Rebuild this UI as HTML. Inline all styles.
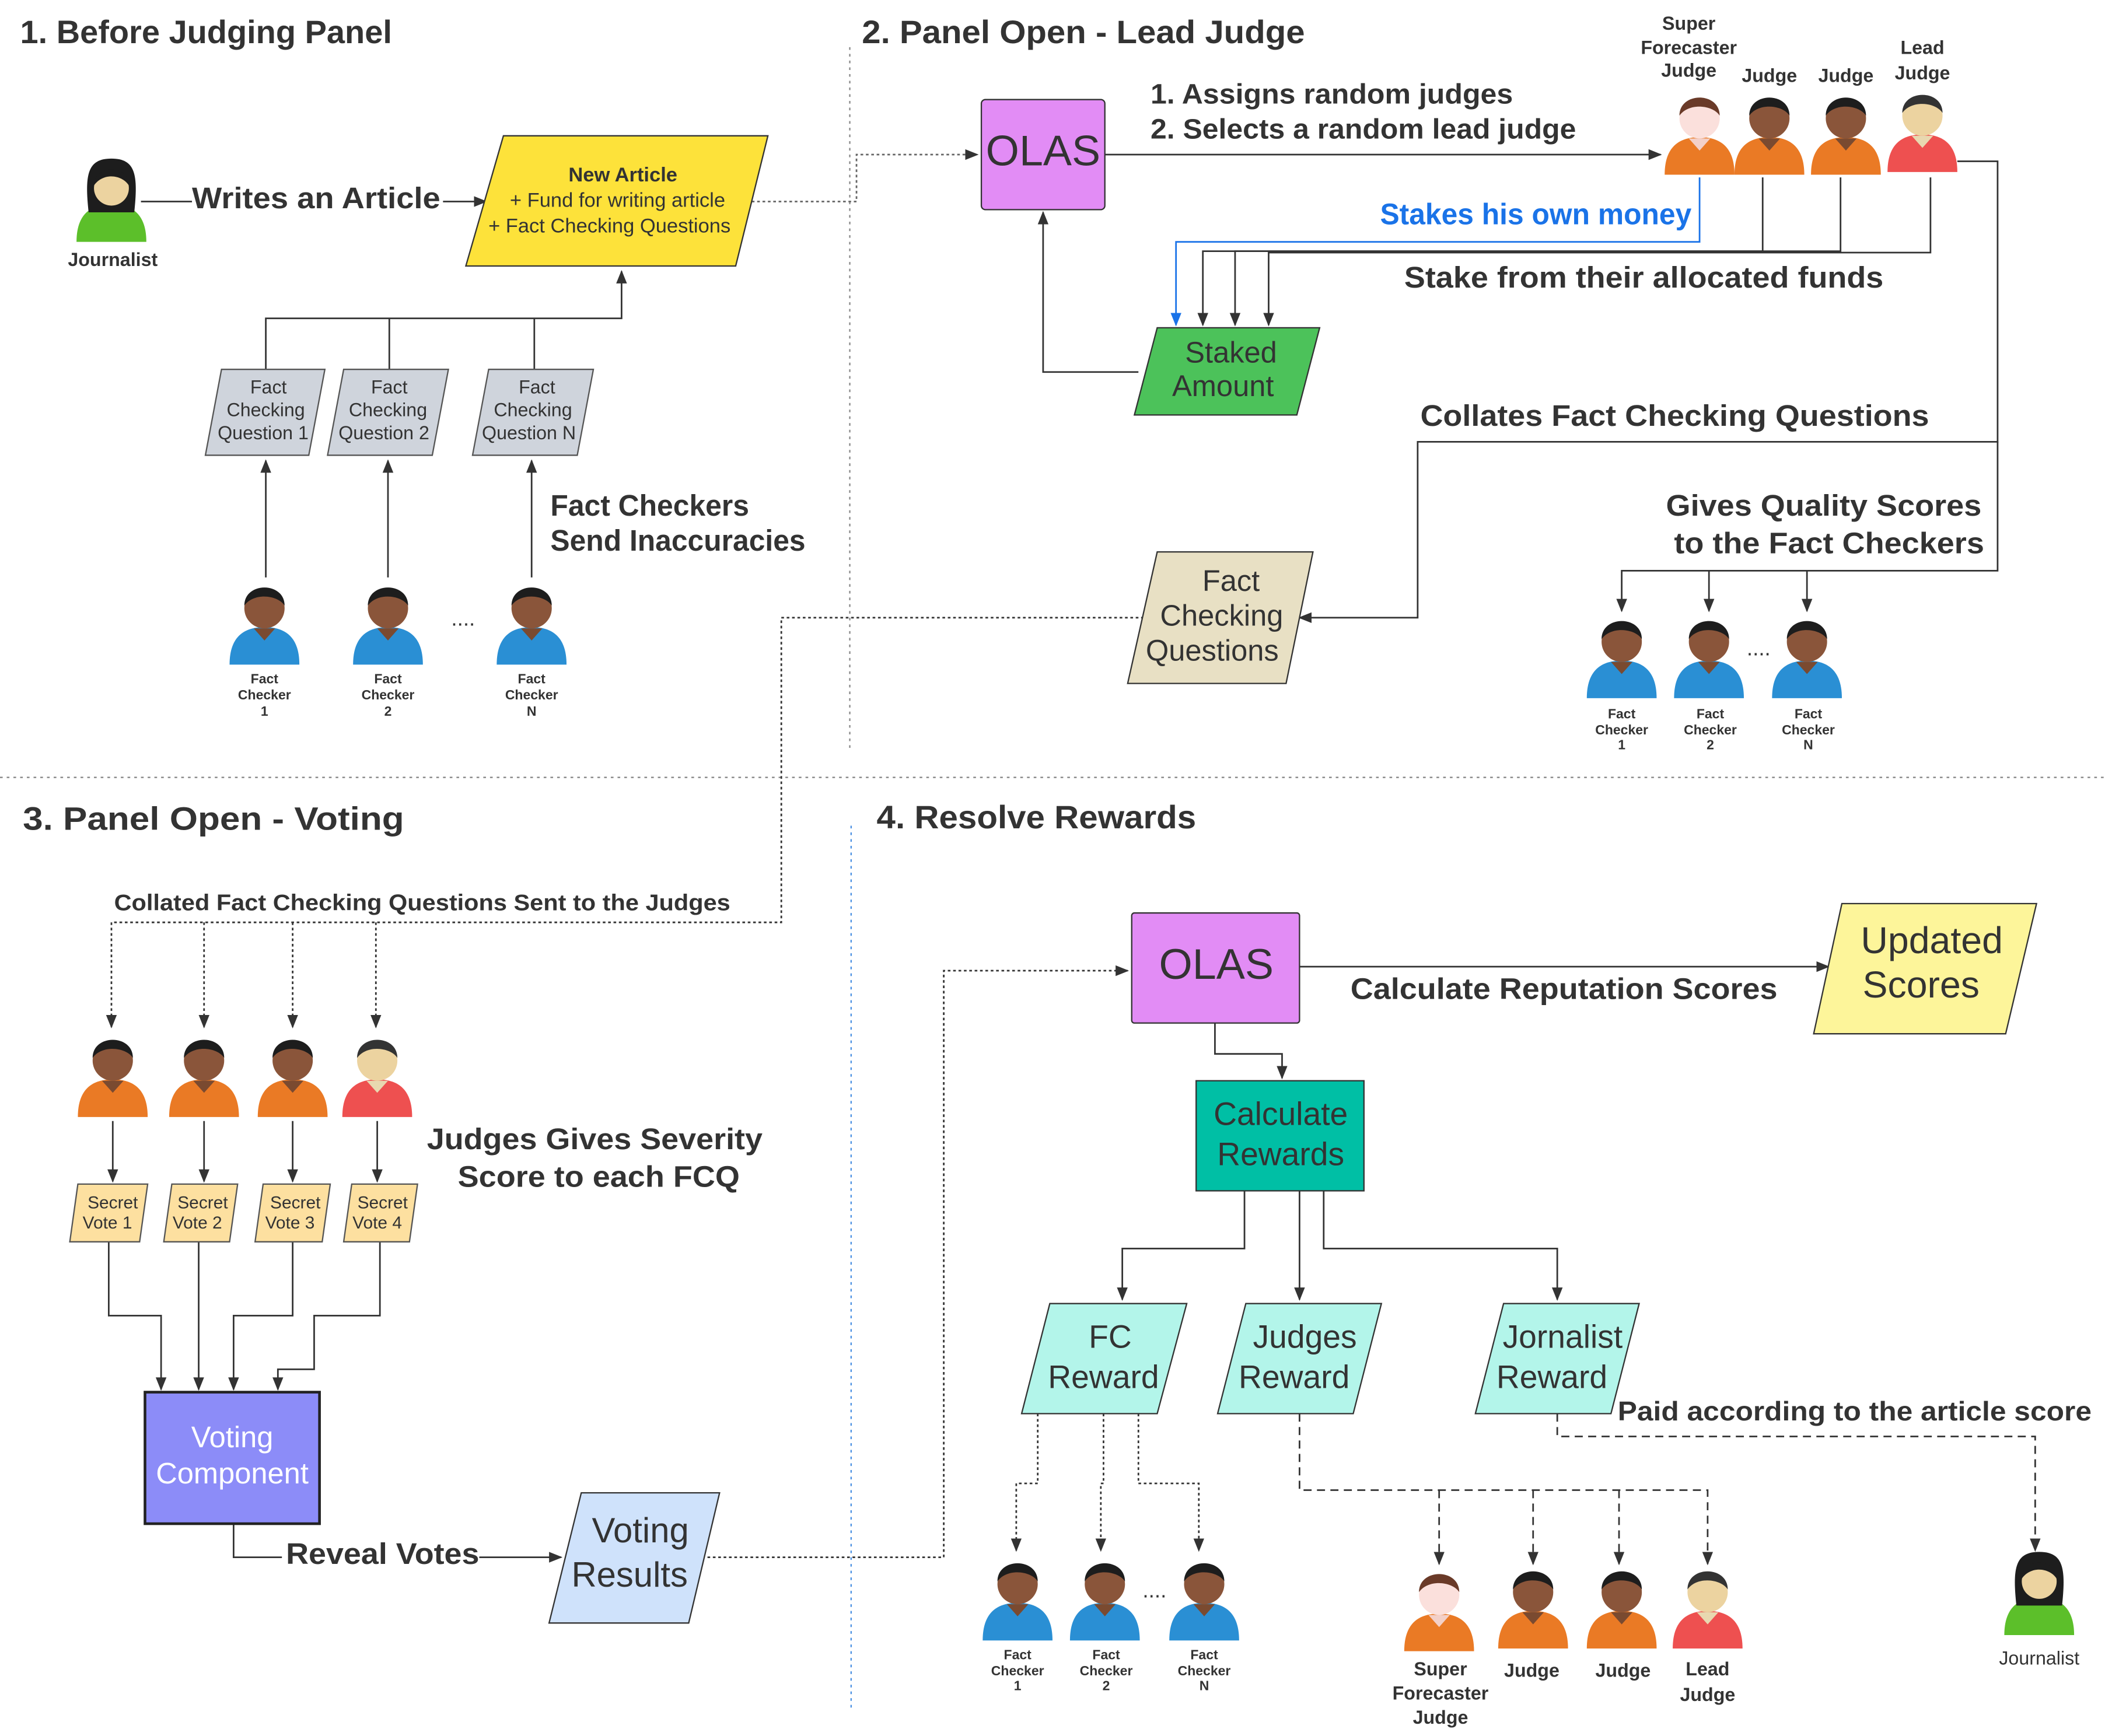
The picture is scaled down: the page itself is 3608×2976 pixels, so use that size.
<!DOCTYPE html>
<html><head><meta charset="utf-8"><style>
html,body{margin:0;padding:0;background:#fff}
svg{display:block}
text{font-family:"Liberation Sans",Arial,sans-serif;fill:#333}
.b{font-weight:bold}
</style></head><body>
<svg width="3608" height="2976" viewBox="0 0 1568 1293" xmlns="http://www.w3.org/2000/svg">
<defs>
<marker id="ar" markerWidth="10" markerHeight="10" refX="9" refY="5" orient="auto" markerUnits="userSpaceOnUse"><path d="M0,1 L10,5 L0,9 Z" fill="#333"/></marker>
<marker id="arb" markerWidth="10" markerHeight="10" refX="9" refY="5" orient="auto" markerUnits="userSpaceOnUse"><path d="M0,1 L10,5 L0,9 Z" fill="#1a73e8"/></marker>
<g id="pFC"><path d="M-26,30 C-26,8 -14,2 0,2 C14,2 26,8 26,30 Z" fill="#2a8fd4"/><path d="M-8,3 L0,12 L8,3 Z" fill="#7a4a30"/><circle cx="0" cy="-12" r="15" fill="#8a553a"/><path d="M-15,-14 C-15,-32 15,-32 15,-14 C10,-22 -8,-24 -15,-14 Z" fill="#1d1d1d"/></g>
<g id="pJ"><path d="M-26,30 C-26,8 -14,2 0,2 C14,2 26,8 26,30 Z" fill="#ea7a25"/><path d="M-8,3 L0,12 L8,3 Z" fill="#7a4a30"/><circle cx="0" cy="-12" r="15" fill="#8a553a"/><path d="M-15,-14 C-15,-32 15,-32 15,-14 C10,-22 -8,-24 -15,-14 Z" fill="#1d1d1d"/></g>
<g id="pL"><path d="M-26,30 C-26,8 -14,2 0,2 C14,2 26,8 26,30 Z" fill="#ee5050"/><path d="M-8,3 L0,12 L8,3 Z" fill="#e8d8b0"/><circle cx="0" cy="-12" r="15" fill="#ecd3a0"/><path d="M-15,-14 C-15,-32 15,-32 15,-14 C10,-22 -8,-24 -15,-14 Z" fill="#333"/></g>
<g id="pS"><path d="M-26,30 C-26,8 -14,2 0,2 C14,2 26,8 26,30 Z" fill="#ea7a25"/><path d="M-8,3 L0,12 L8,3 Z" fill="#f3d0c8"/><circle cx="0" cy="-12" r="15" fill="#fbe0dc"/><path d="M-15,-14 C-15,-32 15,-32 15,-14 C10,-22 -8,-24 -15,-14 Z" fill="#6a3a28"/></g>
<g id="pW"><path d="M-26,30 C-26,8 -14,2 0,2 C14,2 26,8 26,30 Z" fill="#5cbf2a"/><path d="M-17,8 C-20,-20 -18,-32 0,-32 C18,-32 20,-20 17,8 Z" fill="#1d1d1d"/><circle cx="0" cy="-10" r="13" fill="#ecd3a0"/><path d="M-13,-12 C-13,-28 13,-28 13,-12 C8,-20 -6,-22 -13,-12 Z" fill="#1d1d1d"/></g>
</defs>
<rect width="1568" height="1293" fill="#fff"/>
<line x1="633" y1="35" x2="633" y2="560" stroke="#888" stroke-dasharray="2,3"/>
<line x1="0" y1="579" x2="1568" y2="579" stroke="#888" stroke-dasharray="2,3"/>
<line x1="634" y1="615" x2="634" y2="1275" stroke="#4a90e2" stroke-dasharray="2,3"/>
<text x="15" y="32" font-size="24" class="b" textLength="277" lengthAdjust="spacingAndGlyphs">1. Before Judging Panel</text>
<text x="642" y="32" font-size="24" class="b" textLength="330" lengthAdjust="spacingAndGlyphs">2. Panel Open - Lead Judge</text>
<text x="17" y="618" font-size="24" class="b" textLength="284" lengthAdjust="spacingAndGlyphs">3. Panel Open - Voting</text>
<text x="653" y="617" font-size="24" class="b" textLength="238" lengthAdjust="spacingAndGlyphs">4. Resolve Rewards</text>

<g fill="none" stroke="#333" stroke-width="1.2">
<path d="M105,150 H143"/><path d="M330,150 H362" marker-end="url(#ar)"/>
<path d="M198,275 V237 H463 V202" marker-end="url(#ar)"/>
<path d="M290,275 V237"/><path d="M398,275 V237"/>
<path d="M198,430 V343" marker-end="url(#ar)"/><path d="M289,430 V343" marker-end="url(#ar)"/><path d="M396,430 V343" marker-end="url(#ar)"/>
<path d="M560,150 H638 V115 H728" stroke-dasharray="2,2" stroke="#666" marker-end="url(#ar)"/>
<path d="M823,115 H1237" marker-end="url(#ar)"/>
<path d="M1266,132 V180 H876 V242" stroke="#1a73e8" marker-end="url(#arb)"/>
<path d="M1313,132 V187 H896 V242" marker-end="url(#ar)"/>
<path d="M1371,132 V187 H920 V242" marker-end="url(#ar)"/>
<path d="M1438,132 V188 H945 V242" marker-end="url(#ar)"/>
<path d="M848,277 H777 V158" marker-end="url(#ar)"/>
<path d="M1458,120 H1488 V329 H1056 V460 H968" marker-end="url(#ar)"/>
<path d="M1488,329 V425 H1208 V455" marker-end="url(#ar)"/>
<path d="M1273,425 V455" marker-end="url(#ar)"/><path d="M1346,425 V455" marker-end="url(#ar)"/>
<g stroke-dasharray="2,2"><path d="M852,460 H582 V687 H83 V765" marker-end="url(#ar)"/>
<path d="M152,687 V765" marker-end="url(#ar)"/><path d="M218,687 V765" marker-end="url(#ar)"/><path d="M280,687 V765" marker-end="url(#ar)"/></g>
<path d="M84,835 V880" marker-end="url(#ar)"/><path d="M152,835 V880" marker-end="url(#ar)"/><path d="M218,835 V880" marker-end="url(#ar)"/><path d="M281,835 V880" marker-end="url(#ar)"/>
<path d="M81,925 V980 H120 V1035" marker-end="url(#ar)"/>
<path d="M148,925 V1035" marker-end="url(#ar)"/>
<path d="M218,925 V980 H174 V1035" marker-end="url(#ar)"/>
<path d="M283,925 V980 H234 V1020 H207 V1035" marker-end="url(#ar)"/>
<path d="M174,1135 V1160 H210"/><path d="M357,1160 H418" marker-end="url(#ar)"/>
<path d="M527,1160 H703 V723 H840" stroke-dasharray="2,2" marker-end="url(#ar)"/>
<path d="M968,720 H1362" marker-end="url(#ar)"/>
<path d="M905,762 V785 H955 V803" marker-end="url(#ar)"/>
<path d="M927,887 V930 H836 V968" marker-end="url(#ar)"/>
<path d="M968,887 V968" marker-end="url(#ar)"/>
<path d="M986,887 V930 H1160 V968" marker-end="url(#ar)"/>
<g stroke-dasharray="2,2"><path d="M773,1053 V1105 H757 V1155" marker-end="url(#ar)"/>
<path d="M822,1053 V1105 H820 V1155" marker-end="url(#ar)"/>
<path d="M848,1053 V1105 H893 V1155" marker-end="url(#ar)"/></g>
<g stroke-dasharray="6,4"><path d="M968,1053 V1110 H1272 V1165" marker-end="url(#ar)"/>
<path d="M1072,1110 V1165" marker-end="url(#ar)"/><path d="M1142,1110 V1165" marker-end="url(#ar)"/><path d="M1206,1110 V1165" marker-end="url(#ar)"/>
<path d="M1160,1053 V1070 H1516 V1155" marker-end="url(#ar)"/></g>
</g>

<use href="#pW" x="83" y="150"/>
<text x="84" y="198" font-size="14" class="b" text-anchor="middle">Journalist</text>
<text x="143" y="155" font-size="22" class="b" textLength="185" lengthAdjust="spacingAndGlyphs">Writes an Article</text>
<polygon points="375,101 572,101 548,198 347,198" fill="#fde23a" stroke="#333"/>
<g text-anchor="middle" font-size="15"><text x="464" y="135" class="b">New Article</text><text x="460" y="154">+ Fund for writing article</text><text x="454" y="173">+ Fact Checking Questions</text></g>
<g fill="#cfd4dc" stroke="#555"><polygon points="165,275 242,275 230,339 153,339"/><polygon points="256,275 334,275 322,339 244,339"/><polygon points="364,275 442,275 430,339 352,339"/></g>
<g text-anchor="middle" font-size="14"><text x="200" y="293">Fact</text><text x="198" y="310">Checking</text><text x="196" y="327">Question 1</text>
<text x="290" y="293">Fact</text><text x="289" y="310">Checking</text><text x="286" y="327">Question 2</text>
<text x="400" y="293">Fact</text><text x="397" y="310">Checking</text><text x="394" y="327">Question N</text></g>
<use href="#pFC" x="197" y="465"/><use href="#pFC" x="289" y="465"/><use href="#pFC" x="396" y="465"/>
<g text-anchor="middle" font-size="10" class="b"><text x="197" y="509">Fact</text><text x="197" y="521">Checker</text><text x="197" y="533">1</text>
<text x="289" y="509">Fact</text><text x="289" y="521">Checker</text><text x="289" y="533">2</text>
<text x="396" y="509">Fact</text><text x="396" y="521">Checker</text><text x="396" y="533">N</text></g>
<text x="345" y="466" font-size="16" text-anchor="middle">....</text>
<text x="410" y="384" font-size="22" class="b" textLength="148" lengthAdjust="spacingAndGlyphs">Fact Checkers</text><text x="410" y="410" font-size="22" class="b" textLength="190" lengthAdjust="spacingAndGlyphs">Send Inaccuracies</text>

<rect x="731" y="74" width="92" height="82" rx="3" fill="#e28cf5" stroke="#333"/>
<text x="777" y="123" font-size="32" text-anchor="middle">OLAS</text>
<text x="857" y="77" font-size="21" class="b" textLength="270" lengthAdjust="spacingAndGlyphs">1. Assigns random judges</text>
<text x="857" y="103" font-size="21" class="b" textLength="317" lengthAdjust="spacingAndGlyphs">2. Selects a random lead judge</text>
<use href="#pS" x="1266" y="100"/><use href="#pJ" x="1318" y="100"/><use href="#pJ" x="1375" y="100"/><use href="#pL" x="1432" y="98"/>
<g text-anchor="middle" font-size="14" class="b"><text x="1258" y="22">Super</text><text x="1258" y="40">Forecaster</text><text x="1258" y="57">Judge</text>
<text x="1318" y="61">Judge</text><text x="1375" y="61">Judge</text><text x="1432" y="40">Lead</text><text x="1432" y="59">Judge</text></g>
<text x="1028" y="167" font-size="22" class="b" style="fill:#1a73e8" textLength="232" lengthAdjust="spacingAndGlyphs">Stakes his own money</text>
<text x="1046" y="214" font-size="22" class="b" textLength="357" lengthAdjust="spacingAndGlyphs">Stake from their allocated funds</text>
<polygon points="862,244 983,244 966,309 845,309" fill="#4cc25a" stroke="#333"/>
<text x="917" y="270" font-size="22" text-anchor="middle">Staked</text><text x="911" y="295" font-size="22" text-anchor="middle">Amount</text>
<text x="1058" y="317" font-size="22" class="b" textLength="379" lengthAdjust="spacingAndGlyphs">Collates Fact Checking Questions</text>
<text x="1241" y="384" font-size="22" class="b" textLength="235" lengthAdjust="spacingAndGlyphs">Gives Quality Scores</text>
<text x="1247" y="412" font-size="22" class="b" textLength="231" lengthAdjust="spacingAndGlyphs">to the Fact Checkers</text>
<polygon points="862,411 978,411 958,509 840,509" fill="#e8e0c4" stroke="#333"/>
<g text-anchor="middle" font-size="22"><text x="917" y="440">Fact</text><text x="910" y="466">Checking</text><text x="903" y="492">Questions</text></g>
<use href="#pFC" x="1208" y="490"/><use href="#pFC" x="1273" y="490"/><use href="#pFC" x="1346" y="490"/>
<g text-anchor="middle" font-size="10" class="b"><text x="1208" y="535">Fact</text><text x="1208" y="547">Checker</text><text x="1208" y="558">1</text>
<text x="1274" y="535">Fact</text><text x="1274" y="547">Checker</text><text x="1274" y="558">2</text>
<text x="1347" y="535">Fact</text><text x="1347" y="547">Checker</text><text x="1347" y="558">N</text></g>
<text x="1310" y="488" font-size="16" text-anchor="middle">....</text>

<text x="85" y="678" font-size="17" class="b" textLength="459" lengthAdjust="spacingAndGlyphs">Collated Fact Checking Questions Sent to the Judges</text>
<use href="#pJ" x="84" y="802"/><use href="#pJ" x="152" y="802"/><use href="#pJ" x="218" y="802"/><use href="#pL" x="281" y="802"/>
<g fill="#fde0a0" stroke="#555"><polygon points="58,882 110,882 104,925 52,925"/><polygon points="128,882 177,882 171,925 122,925"/><polygon points="196,882 246,882 240,925 190,925"/><polygon points="262,882 311,882 305,925 256,925"/></g>
<g text-anchor="middle" font-size="13"><text x="84" y="900">Secret</text><text x="80" y="915">Vote 1</text><text x="151" y="900">Secret</text><text x="147" y="915">Vote 2</text><text x="220" y="900">Secret</text><text x="216" y="915">Vote 3</text><text x="285" y="900">Secret</text><text x="281" y="915">Vote 4</text></g>
<text x="318" y="856" font-size="22" class="b" textLength="250" lengthAdjust="spacingAndGlyphs">Judges Gives Severity</text>
<text x="341" y="884" font-size="22" class="b" textLength="210" lengthAdjust="spacingAndGlyphs">Score to each FCQ</text>
<rect x="108" y="1037" width="130" height="98" fill="#8c8cf8" stroke="#222" stroke-width="2"/>
<text x="173" y="1078" font-size="22" text-anchor="middle" style="fill:#fff">Voting</text><text x="173" y="1105" font-size="22" text-anchor="middle" style="fill:#fff">Component</text>
<text x="213" y="1165" font-size="22" class="b" textLength="144" lengthAdjust="spacingAndGlyphs">Reveal Votes</text>
<polygon points="433,1112 536,1112 513,1209 409,1209" fill="#cfe2fb" stroke="#333"/>
<text x="477" y="1149" font-size="26" text-anchor="middle">Voting</text><text x="469" y="1182" font-size="26" text-anchor="middle">Results</text>

<rect x="843" y="680" width="125" height="82" rx="2" fill="#e28cf5" stroke="#333"/>
<text x="906" y="729" font-size="32" text-anchor="middle">OLAS</text>
<text x="1006" y="744" font-size="22" class="b" textLength="318" lengthAdjust="spacingAndGlyphs">Calculate Reputation Scores</text>
<polygon points="1372,673 1517,673 1494,770 1351,770" fill="#fdf59a" stroke="#333"/>
<text x="1439" y="710" font-size="28" text-anchor="middle">Updated</text><text x="1431" y="743" font-size="28" text-anchor="middle">Scores</text>
<rect x="891" y="805" width="125" height="82" fill="#00bfa5" stroke="#333"/>
<text x="954" y="838" font-size="24" text-anchor="middle">Calculate</text><text x="954" y="868" font-size="24" text-anchor="middle">Rewards</text>
<g fill="#b3f5ea" stroke="#333"><polygon points="782,971 884,971 862,1053 761,1053"/><polygon points="928,971 1029,971 1008,1053 907,1053"/><polygon points="1120,971 1221,971 1200,1053 1099,1053"/></g>
<g text-anchor="middle" font-size="24"><text x="827" y="1004">FC</text><text x="822" y="1034">Reward</text>
<text x="972" y="1004">Judges</text><text x="964" y="1034">Reward</text>
<text x="1164" y="1004">Jornalist</text><text x="1156" y="1034">Reward</text></g>
<text x="1205" y="1058" font-size="20" class="b" textLength="353" lengthAdjust="spacingAndGlyphs">Paid according to the article score</text>
<use href="#pFC" x="758" y="1192"/><use href="#pFC" x="823" y="1192"/><use href="#pFC" x="897" y="1192"/>
<g text-anchor="middle" font-size="10" class="b"><text x="758" y="1236">Fact</text><text x="758" y="1248">Checker</text><text x="758" y="1259">1</text>
<text x="824" y="1236">Fact</text><text x="824" y="1248">Checker</text><text x="824" y="1259">2</text>
<text x="897" y="1236">Fact</text><text x="897" y="1248">Checker</text><text x="897" y="1259">N</text></g>
<text x="860" y="1190" font-size="16" text-anchor="middle">....</text>
<use href="#pS" x="1072" y="1200"/><use href="#pJ" x="1142" y="1198"/><use href="#pJ" x="1208" y="1198"/><use href="#pL" x="1272" y="1198"/>
<g text-anchor="middle" font-size="14" class="b"><text x="1073" y="1248">Super</text><text x="1073" y="1266">Forecaster</text><text x="1073" y="1284">Judge</text>
<text x="1141" y="1249">Judge</text><text x="1209" y="1249">Judge</text><text x="1272" y="1248">Lead</text><text x="1272" y="1267">Judge</text></g>
<use href="#pW" x="1519" y="1188"/>
<text x="1519" y="1240" font-size="14" text-anchor="middle">Journalist</text>
</svg>
</body></html>
